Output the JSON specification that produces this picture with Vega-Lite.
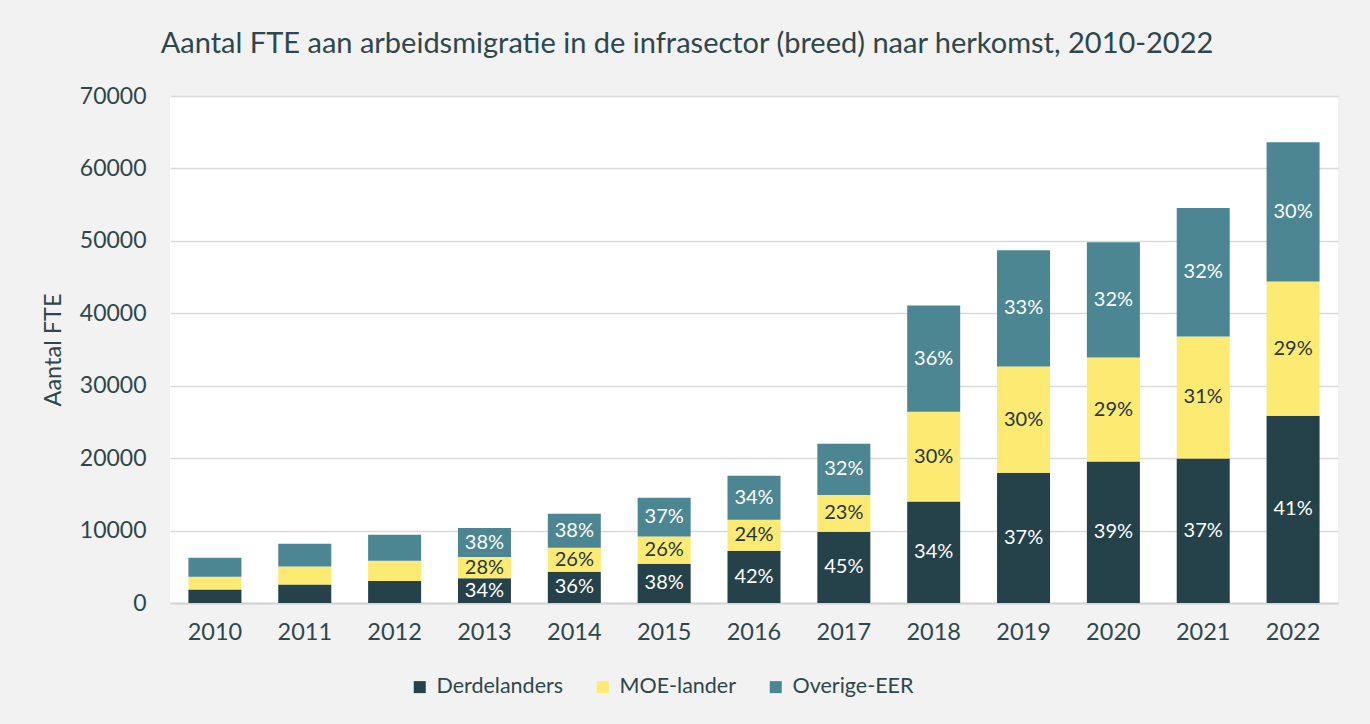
{
  "$schema": "https://vega.github.io/schema/vega-lite/v6.json",
  "width": 1168,
  "height": 507,
  "autosize": {"type": "none"},
  "padding": {"left": 170, "top": 96, "right": 32, "bottom": 121},
  "background": "#f2f2f2",
  "config": {"font": "Lato", "view": {"fill": "#ffffff", "stroke": null}},
  "title": {
    "text": "Aantal FTE aan arbeidsmigratie in de infrasector (breed) naar herkomst, 2010-2022",
    "fontSize": 29,
    "fontWeight": "normal",
    "color": "#2e474d",
    "anchor": "middle",
    "dx": -67,
    "offset": 26
  },
  "data": {
    "values": [
      {"year": "2010", "cat": "Derdelanders", "value": 1880, "label": ""},
      {"year": "2010", "cat": "MOE-lander", "value": 1750, "label": ""},
      {"year": "2010", "cat": "Overige-EER", "value": 2630, "label": ""},
      {"year": "2011", "cat": "Derdelanders", "value": 2570, "label": ""},
      {"year": "2011", "cat": "MOE-lander", "value": 2480, "label": ""},
      {"year": "2011", "cat": "Overige-EER", "value": 3140, "label": ""},
      {"year": "2012", "cat": "Derdelanders", "value": 3040, "label": ""},
      {"year": "2012", "cat": "MOE-lander", "value": 2800, "label": ""},
      {"year": "2012", "cat": "Overige-EER", "value": 3590, "label": ""},
      {"year": "2013", "cat": "Derdelanders", "value": 3400, "label": "34%"},
      {"year": "2013", "cat": "MOE-lander", "value": 2950, "label": "28%"},
      {"year": "2013", "cat": "Overige-EER", "value": 4000, "label": "38%"},
      {"year": "2014", "cat": "Derdelanders", "value": 4320, "label": "36%"},
      {"year": "2014", "cat": "MOE-lander", "value": 3310, "label": "26%"},
      {"year": "2014", "cat": "Overige-EER", "value": 4690, "label": "38%"},
      {"year": "2015", "cat": "Derdelanders", "value": 5420, "label": "38%"},
      {"year": "2015", "cat": "MOE-lander", "value": 3770, "label": "26%"},
      {"year": "2015", "cat": "Overige-EER", "value": 5340, "label": "37%"},
      {"year": "2016", "cat": "Derdelanders", "value": 7220, "label": "42%"},
      {"year": "2016", "cat": "MOE-lander", "value": 4280, "label": "24%"},
      {"year": "2016", "cat": "Overige-EER", "value": 6070, "label": "34%"},
      {"year": "2017", "cat": "Derdelanders", "value": 9840, "label": "45%"},
      {"year": "2017", "cat": "MOE-lander", "value": 5060, "label": "23%"},
      {"year": "2017", "cat": "Overige-EER", "value": 7090, "label": "32%"},
      {"year": "2018", "cat": "Derdelanders", "value": 14020, "label": "34%"},
      {"year": "2018", "cat": "MOE-lander", "value": 12380, "label": "30%"},
      {"year": "2018", "cat": "Overige-EER", "value": 14670, "label": "36%"},
      {"year": "2019", "cat": "Derdelanders", "value": 17980, "label": "37%"},
      {"year": "2019", "cat": "MOE-lander", "value": 14670, "label": "30%"},
      {"year": "2019", "cat": "Overige-EER", "value": 16060, "label": "33%"},
      {"year": "2020", "cat": "Derdelanders", "value": 19540, "label": "39%"},
      {"year": "2020", "cat": "MOE-lander", "value": 14350, "label": "29%"},
      {"year": "2020", "cat": "Overige-EER", "value": 15930, "label": "32%"},
      {"year": "2021", "cat": "Derdelanders", "value": 19960, "label": "37%"},
      {"year": "2021", "cat": "MOE-lander", "value": 16830, "label": "31%"},
      {"year": "2021", "cat": "Overige-EER", "value": 17760, "label": "32%"},
      {"year": "2022", "cat": "Derdelanders", "value": 25850, "label": "41%"},
      {"year": "2022", "cat": "MOE-lander", "value": 18530, "label": "29%"},
      {"year": "2022", "cat": "Overige-EER", "value": 19240, "label": "30%"}
    ]
  },
  "transform": [
    {"stack": "value", "groupby": ["year"], "sort": [{"field": "cat", "order": "ascending"}], "as": ["v0", "v1"]},
    {"calculate": "(datum.v0 + datum.v1) / 2", "as": "mid"}
  ],
  "encoding": {
    "x": {
      "field": "year",
      "type": "nominal",
      "scale": {"paddingInner": 0.41, "paddingOuter": 0.205},
      "axis": {
        "title": null,
        "labelAngle": 0,
        "ticks": false,
        "domain": true,
        "domainColor": "#d4d4d4",
        "domainWidth": 2,
        "labelPadding": 17,
        "labelFontSize": 23.5,
        "labelColor": "#2e474d"
      }
    }
  },
  "layer": [
    {
      "mark": {"type": "bar"},
      "encoding": {
        "y": {
          "field": "v0",
          "type": "quantitative",
          "scale": {"domain": [0, 70000], "nice": false},
          "axis": {
            "title": "Aantal FTE",
            "titleFontSize": 23.5,
            "titleFontWeight": "normal",
            "titleColor": "#2e474d",
            "titlePadding": 14,
            "values": [0, 10000, 20000, 30000, 40000, 50000, 60000, 70000],
            "format": "d",
            "labelFontSize": 23,
            "labelColor": "#2e474d",
            "labelPadding": 24,
            "ticks": false,
            "domain": false,
            "grid": true,
            "gridColor": "#d9d9d9",
            "gridWidth": 1.5
          }
        },
        "y2": {"field": "v1"},
        "color": {
          "field": "cat",
          "type": "nominal",
          "scale": {
            "domain": ["Derdelanders", "MOE-lander", "Overige-EER"],
            "range": ["#25424a", "#fcea73", "#4b8692"]
          },
          "legend": {
            "title": null,
            "orient": "none",
            "legendX": 239,
            "legendY": 580,
            "direction": "horizontal",
            "symbolType": "square",
            "symbolSize": 144,
            "symbolStrokeWidth": 0,
            "labelFontSize": 21.5,
            "labelColor": "#2e474d",
            "labelOffset": 6,
            "columnPadding": 28
          }
        }
      }
    },
    {
      "mark": {"type": "text", "fontSize": 20, "baseline": "middle", "align": "center"},
      "encoding": {
        "y": {"field": "mid", "type": "quantitative"},
        "text": {"field": "label"},
        "color": {
          "condition": {"test": "datum.cat === 'MOE-lander'", "value": "#26363a"},
          "value": "#ffffff"
        }
      }
    }
  ]
}
